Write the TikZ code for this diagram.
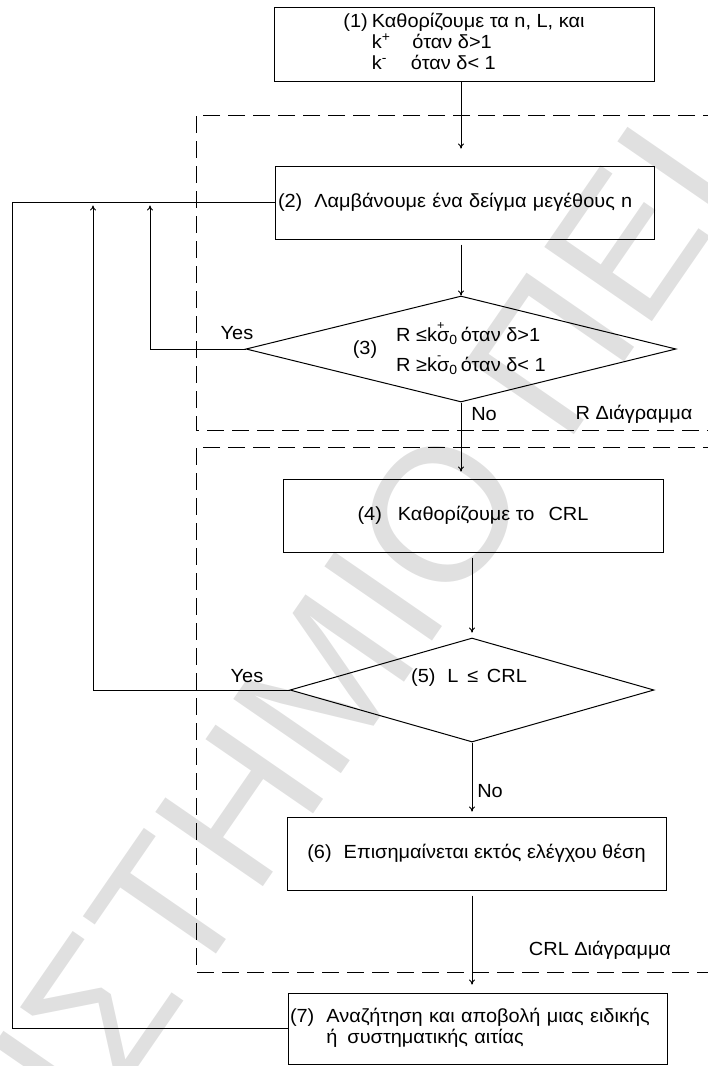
\documentclass[tikz,border=0pt]{standalone}
\usepackage{fontspec}
\setmainfont[FakeStretch=1.05]{Liberation Sans}
\newfontfamily\wmfont{Liberation Sans}
\usetikzlibrary{arrows.meta,shapes.geometric}
\newcommand{\ovmark}[1]{\rlap{\raisebox{0.62em}{\fontsize{12}{12}\selectfont #1}}}
\begin{document}
\begin{tikzpicture}[x=1pt,y=-1pt,
  font=\fontsize{19}{21}\selectfont,
  box/.style={draw=black, line width=1pt, inner sep=0pt, align=center},
  dec/.style={draw=black, line width=1pt, diamond, inner sep=0pt},
  lbl/.style={inner sep=0pt},
  conn/.style={line width=1pt},
  arr/.style={conn, -{To[length=5pt,width=6pt]}},
  frame/.style={line width=1pt, dash pattern=on 17pt off 8pt},
  wm/.style={text=black!12, font=\wmfont\fontsize{190}{190}\selectfont, inner sep=0pt}
]
\useasboundingbox (0,0) rectangle (708,1066);
\clip (0,0) rectangle (708,1066);
\node[wm, rotate=55.4] (wm) at (326,680) {ΠΙΣΤΗΜΙΟ ΠΕΙ};

\draw[frame] (720,115) -- (196,115) -- (196,430) -- (720,430);
\draw[frame] (720,447) -- (196,447) -- (196,972) -- (720,972);

\node[box, minimum width=380, minimum height=74] (b1) at (464,44)
  {\begin{tabular}{@{}l@{\hspace{4pt}}l@{}}(1)&Καθορίζουμε τα n, L, και\\ &k\textsuperscript{+}\hspace{22pt}όταν δ>1\\ &k\textsuperscript{-}\hspace{24pt}όταν δ< 1\end{tabular}};
\node[box, minimum width=379, minimum height=73, text width=373, align=left] (b2) at (464.5,202.5)
  {(2)\hspace{12pt}Λαμβάνουμε ένα δείγμα μεγέθους n};
\node[dec, minimum width=430, minimum height=106] (d3) at (461,349) {};
\node[lbl] (t3n) at (365,350) {(3)};
\node[lbl, anchor=west, align=left] (t3) at (396,349)
  {R ≤k\ovmark{+}σ\textsubscript{0}\,όταν δ>1\\[9pt]R ≥k\ovmark{-}σ\textsubscript{0}\,όταν δ< 1};
\node[box, minimum width=380, minimum height=73] (b4) at (473,515.5)
  {(4)\hspace{16pt}Καθορίζουμε το\hspace{14pt}CRL};
\node[dec, minimum width=364, minimum height=104] (d5) at (472,690) {};
\node[lbl] (t5) at (469,678) {(5)\hspace{12pt}L\, ≤\, CRL};
\node[box, minimum width=379, minimum height=73] (b6) at (476.5,853.5)
  {(6)\hspace{12pt}Επισημαίνεται εκτός ελέγχου θέση};
\node[box, minimum width=379, minimum height=71, text width=375, align=left] (b7) at (477.5,1028.5)
  {\begin{tabular}{@{}l@{\hspace{12pt}}l@{}}(7)&Αναζήτηση και αποβολή μιας ειδικής\\ &ή\hspace{10pt}συστηματικής αιτίας\end{tabular}};

\draw[arr, shorten >=17pt] (b1.south -| d3.north) -- (b2.north -| d3.north);
\draw[arr, shorten <=5pt] (b2.south -| d3.north) -- (d3.north);
\draw[arr, shorten >=7pt] (d3.south) -- (d3.south |- b4.north);
\draw[arr, shorten <=5pt, shorten >=5pt] (b4.south -| d5.north) -- (d5.north);
\draw[arr, shorten >=5pt] (d5.south) -- (d5.south |- b6.north);
\draw[arr, shorten <=5pt, shorten >=8pt] (b6.south -| d5.south) -- (b7.north -| d5.south);

\coordinate (fb) at (12,202.5);
\coordinate (j3) at (150,202.5);
\coordinate (j5) at (93,202.5);
\draw[conn] (b7.west) -| (fb) -- (b2.west);
\draw[arr, shorten >=3pt] (d3.west) -| (j3);
\draw[arr, shorten >=3pt] (d5.west) -| (j5);

\node[lbl] (y3) at (237,333) {Yes};
\node[lbl] (n3) at (484,414) {No};
\node[lbl] (rd) at (634,414) {R Διάγραμμα};
\node[lbl] (y5) at (247,676) {Yes};
\node[lbl] (n5) at (490,791) {No};
\node[lbl] (cd) at (600,950) {CRL Διάγραμμα};
\end{tikzpicture}
\end{document}
